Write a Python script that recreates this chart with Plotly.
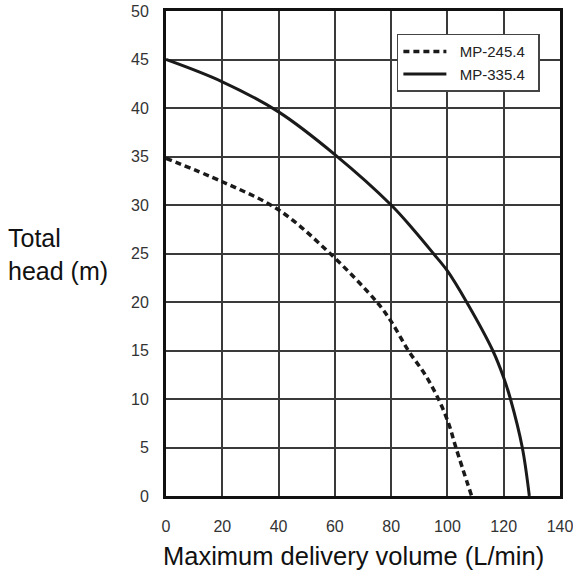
import plotly.graph_objects as go

# MP-335.4 (solid) and MP-245.4 (dashed) pump curves
flow_335 = [0, 20, 40, 60, 80, 87.8, 95, 100, 106.8, 116.1, 120, 122.4, 126.6, 129.1]
head_335 = [45, 42.7, 39.6, 35.2, 30, 27.5, 25, 23.2, 20, 15, 12.2, 10, 5, 0]

flow_245 = [0, 20, 40, 58.3, 74.9, 80, 86.1, 92.1, 96.8, 100.4, 103, 108.6]
head_245 = [34.8, 32.4, 29.5, 25, 20, 18, 15, 12.5, 10, 7.5, 5, 0]

pad = "\u00a0"

fig = go.Figure()
fig.add_trace(go.Scatter(
    x=flow_245, y=head_245, mode="lines", name=pad * 2 + "MP-245.4" + pad * 2,
    line=dict(color="#1a1a1a", width=3.5, dash="6px,4px", shape="spline", smoothing=1)
))
fig.add_trace(go.Scatter(
    x=flow_335, y=head_335, mode="lines", name=pad * 2 + "MP-335.4" + pad * 2,
    line=dict(color="#1a1a1a", width=3, shape="spline", smoothing=1)
))

fig.update_xaxes(
    range=[0, 140], dtick=20, tick0=0, automargin=False,
    showgrid=True, gridcolor="#3a3a3a", gridwidth=1.5,
    showline=True, linecolor="#111", linewidth=3, mirror=True,
    zeroline=False, ticks="", ticklabelstandoff=14, ticklabeloverflow="allow",
    tickfont=dict(size=16, color="#333"),
)
fig.update_yaxes(
    range=[0, 50], dtick=5, tick0=0, automargin=False,
    showgrid=True, gridcolor="#3a3a3a", gridwidth=1.5,
    showline=True, linecolor="#111", linewidth=3, mirror=True,
    zeroline=False, ticks="", ticklabelstandoff=11,
    tickfont=dict(size=16, color="#333"),
)

# axis titles as annotations
fig.add_annotation(
    text="Total<br>head (m)", xref="paper", yref="paper", x=0, y=0.497,
    xshift=-160, xanchor="left", yanchor="middle", showarrow=False, align="left",
    font=dict(size=25, color="#111")
)
fig.add_annotation(
    text="Maximum delivery volume (L/min)", xref="paper", yref="paper", x=0.5, y=0,
    xshift=-10, yshift=-60, xanchor="center", yanchor="middle", showarrow=False,
    font=dict(size=25.5, color="#111")
)

fig.update_layout(
    width=573, height=570,
    margin=dict(l=166, r=13, t=11, b=74),
    paper_bgcolor="white", plot_bgcolor="white",
    font=dict(family="Liberation Sans, Arial, sans-serif"),
    legend=dict(
        x=0.586, y=0.953, xanchor="left", yanchor="top",
        bgcolor="white", bordercolor="#444", borderwidth=1.5,
        font=dict(size=15, color="#222"), tracegroupgap=0, itemwidth=43,
    ),
)

fig.write_html("out.html", config={"displayModeBar": False},
               post_script="document.body.style.margin='0';")
